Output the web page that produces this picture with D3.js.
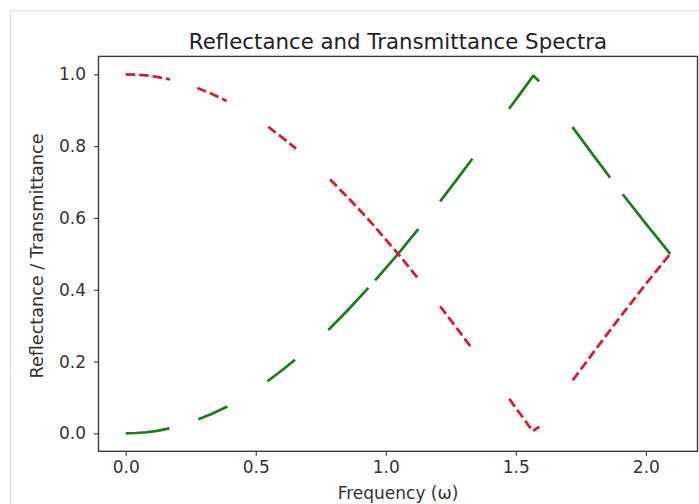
<!DOCTYPE html>
<html>
<head>
<meta charset="utf-8">
<script src="https://cdn.jsdelivr.net/npm/d3@7"></script>
<style>
  html, body { margin: 0; padding: 0; background: #fff; }
  svg { display: block; }
  .tick text { font-family: "DejaVu Sans", sans-serif; fill: #333; }
</style>
</head>
<body>
<svg id="chart" width="699" height="504"></svg>
<script>
// ---- data ----
const title = "Reflectance and Transmittance Spectra";
const xLabel = "Frequency (\u03c9)";
const yLabel = "Reflectance / Transmittance";
const xTicks = [0.0, 0.5, 1.0, 1.5, 2.0];
const yTicks = [0.0, 0.2, 0.4, 0.6, 0.8, 1.0];

// Reflectance (red, dashed); null = gap in the drawn curve
const freqR   = [0.00, 0.04, 0.08, 0.12, 0.170, null,
                 0.275, 0.33, 0.388, null,
                 0.548, 0.60, 0.655, null,
                 0.786, 0.85, 0.90, 0.95, 1.00, 1.05, 1.09, 1.125, null,
                 1.209, 1.27, 1.331, null,
                 1.475, 1.52, 1.565, 1.59, null,
                 1.719, 1.80, 1.90, 2.00, 2.094];
const reflect = [1.000, 0.999, 0.997, 0.993, 0.986, null,
                 0.962, 0.946, 0.926, null,
                 0.854, 0.825, 0.793, null,
                 0.707, 0.660, 0.622, 0.582, 0.540, 0.498, 0.462, 0.431, null,
                 0.354, 0.296, 0.237, null,
                 0.096, 0.051, 0.006, 0.019, null,
                 0.148, 0.227, 0.323, 0.416, 0.500];

// Transmittance (green)
const freqT    = [0.00, 0.04, 0.08, 0.12, 0.168, null,
                  0.279, 0.33, 0.391, null,
                  0.545, 0.60, 0.651, null,
                  0.779, 0.85, 0.933, null,
                  0.959, 1.00, 1.05, 1.09, 1.125, null,
                  1.209, 1.27, 1.333, null,
                  1.474, 1.52, 1.567, 1.59, null,
                  1.718, 1.80, 1.863, null,
                  1.911, 2.00, 2.094];
const transmit = [0.000, 0.001, 0.003, 0.007, 0.014, null,
                  0.039, 0.054, 0.075, null,
                  0.145, 0.175, 0.205, null,
                  0.288, 0.340, 0.405, null,
                  0.426, 0.460, 0.502, 0.538, 0.569, null,
                  0.646, 0.704, 0.765, null,
                  0.904, 0.949, 0.996, 0.981, null,
                  0.853, 0.773, 0.712, null,
                  0.666, 0.584, 0.500];

// ---- layout ----
const svg = d3.select("#chart");
const mLeft = 98.5, mRight = 697.5, mTop = 56.4, mBottom = 451.3;
const xMax = 2.094, xPad = xMax * 0.05;
const x = d3.scaleLinear().domain([-xPad, xMax + xPad]).range([mLeft, mRight]);
const y = d3.scaleLinear().domain([-0.05, 1.05]).range([mBottom, mTop]);

// notebook cell border
svg.append("rect").attr("x", 10.5).attr("y", 10.5).attr("width", 700).attr("height", 510)
  .attr("fill", "none").attr("stroke", "#dedede").attr("stroke-width", 1.2);

function pts(xs, ys) {
  return xs.map((v, i) => (v === null ? null : { x: v, y: ys[i] }));
}
const line = d3.line()
  .defined(d => d !== null)
  .x(d => x(d.x)).y(d => y(d.y));

svg.append("path")
  .datum(pts(freqT, transmit))
  .attr("d", line)
  .attr("fill", "none")
  .attr("stroke", "#1d7a1d")
  .attr("stroke-width", 2.7)
  .attr("stroke-linejoin", "round");

svg.append("path")
  .datum(pts(freqR, reflect))
  .attr("d", line)
  .attr("fill", "none")
  .attr("stroke", "#cc2230")
  .attr("stroke-width", 2.8)
  .attr("stroke-dasharray", "9.5,4")
  .attr("stroke-linejoin", "round");

// axes
const fs = 17;
const gx = svg.append("g").attr("transform", `translate(0,${mBottom})`)
  .call(d3.axisBottom(x).tickValues(xTicks).tickFormat(d3.format(".1f")).tickSize(4.5).tickPadding(5));
const gy = svg.append("g").attr("transform", `translate(${mLeft},0)`)
  .call(d3.axisLeft(y).tickValues(yTicks).tickFormat(d3.format(".1f")).tickSize(4.5).tickPadding(8));
[gx, gy].forEach(g => {
  g.select(".domain").remove();
  g.selectAll(".tick line").attr("stroke", "#444").attr("stroke-width", 1.2);
  g.selectAll(".tick text").attr("font-size", fs).attr("fill", "#333");
});

// frame
svg.append("rect").attr("x", mLeft).attr("y", mTop)
  .attr("width", mRight - mLeft).attr("height", mBottom - mTop)
  .attr("fill", "none").attr("stroke", "#3c3c3c").attr("stroke-width", 1.4);

// texts
svg.append("text").attr("x", (mLeft + mRight) / 2).attr("y", 48.5)
  .attr("text-anchor", "middle").attr("font-family", "DejaVu Sans, sans-serif")
  .attr("font-size", 21.3).attr("fill", "#222").text(title);
svg.append("text").attr("x", (mLeft + mRight) / 2).attr("y", 498.5)
  .attr("text-anchor", "middle").attr("font-family", "DejaVu Sans, sans-serif")
  .attr("font-size", 17).attr("fill", "#333").text(xLabel);
svg.append("text").attr("transform", `translate(43,256) rotate(-90)`)
  .attr("text-anchor", "middle").attr("font-family", "DejaVu Sans, sans-serif")
  .attr("font-size", 17.6).attr("fill", "#333").text(yLabel);
</script>
</body>
</html>
